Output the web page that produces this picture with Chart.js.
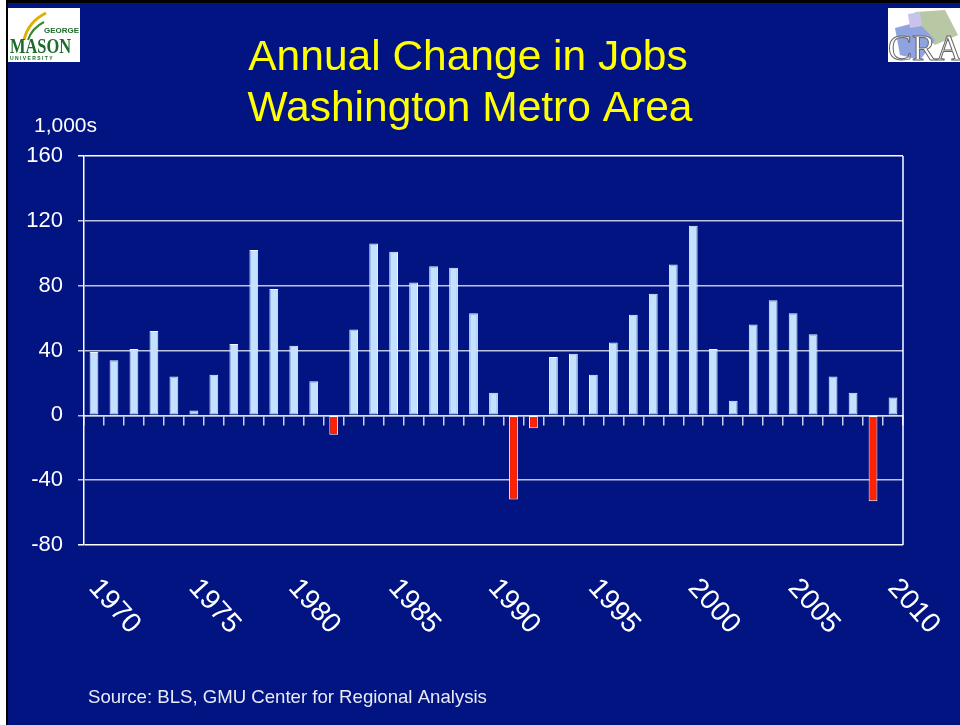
<!DOCTYPE html>
<html>
<head>
<meta charset="utf-8">
<script src="https://cdn.jsdelivr.net/npm/chart.js@4"></script>
<style>
  html, body { margin:0; padding:0; background:#fff; }
  #wrap { position:relative; width:960px; height:725px; overflow:hidden; }
  canvas { display:block; }
</style>
</head>
<body>
<div id="wrap"><canvas id="jobsChart" width="960" height="725"></canvas></div>
<script>
// --- Data ---
const years = ['1970','1971','1972','1973','1974','1975','1976','1977','1978','1979',
  '1980','1981','1982','1983','1984','1985','1986','1987','1988','1989',
  '1990','1991','1992','1993','1994','1995','1996','1997','1998','1999',
  '2000','2001','2002','2003','2004','2005','2006','2007','2008','2009','2010'];
const jobChange = [39, 34, 41, 52, 24, 3, 25, 44, 102, 78,
  43, 21, -12, 53, 106, 101, 82, 92, 91, 63,
  14, -52, -8, 36, 38, 25, 45, 62, 75, 93,
  117, 41, 9, 56, 71, 63, 50, 24, 14, -53, 11];
const yTicks = [160, 120, 80, 40, 0, -40, -80];
const titleLines = ['Annual Change in Jobs', 'Washington Metro Area'];
const unitLabel = '1,000s';
const sourceNote = 'Source: BLS, GMU Center for Regional Analysis';

// --- Style ---
const NAVY = '#011482';
const FONT = '"Liberation Sans", Arial, sans-serif';
const GRID = 'rgba(225,228,240,0.85)';

// background, frame, titles, logos
const slidePlugin = {
  id: 'slide',
  beforeDraw(chart) {
    const c = chart.ctx;
    c.save();
    c.fillStyle = '#fff';
    c.fillRect(0, 0, 960, 725);
    c.fillStyle = NAVY;
    c.fillRect(8, 3, 952, 722);
    c.fillStyle = '#000';
    c.fillRect(6, 0, 2, 725);
    c.fillRect(6, 0, 954, 3);

    // GMU logo
    c.fillStyle = '#fff';
    c.fillRect(8, 8, 72, 54);
    c.strokeStyle = '#e0b000'; c.lineWidth = 3;
    c.beginPath(); c.moveTo(24, 40); c.quadraticCurveTo(28, 22, 46, 13); c.stroke();
    c.strokeStyle = '#2f8a2f'; c.lineWidth = 2;
    c.beginPath(); c.moveTo(28, 40); c.quadraticCurveTo(32, 28, 44, 22); c.stroke();
    c.fillStyle = '#1c6b2a';
    c.font = 'bold 8px ' + FONT;
    c.fillText('GEORGE', 44, 33);
    c.font = 'bold 20px "Liberation Serif", serif';
    c.save();
    c.translate(10, 53);
    c.scale(0.82, 1);
    c.fillText('MASON', 0, 0);
    c.restore();
    c.font = 'bold 5px ' + FONT;
    c.fillText('U N I V E R S I T Y', 10, 60);

    // CRA logo
    c.fillStyle = '#fff';
    c.fillRect(888, 8, 72, 54);
    c.fillStyle = '#b9c8a4';
    c.beginPath(); c.moveTo(915, 12); c.lineTo(945, 10); c.lineTo(958, 35); c.lineTo(935, 45); c.lineTo(918, 30); c.closePath(); c.fill();
    c.fillStyle = '#8fa3e0';
    c.beginPath(); c.moveTo(895, 28); c.lineTo(918, 22); c.lineTo(935, 40); c.lineTo(920, 60); c.lineTo(900, 55); c.closePath(); c.fill();
    c.fillStyle = '#c9c2ea';
    c.beginPath(); c.moveTo(908, 14); c.lineTo(920, 12); c.lineTo(922, 26); c.lineTo(910, 28); c.closePath(); c.fill();
    c.font = '36px "Liberation Serif", serif';
    c.fillStyle = '#fff';
    c.strokeStyle = '#666'; c.lineWidth = 1;
    c.fillText('CRA', 888, 60);
    c.strokeText('CRA', 888, 60);

    // title
    c.fillStyle = '#ffff00';
    c.font = '42.5px ' + FONT;
    c.textAlign = 'center';
    c.textBaseline = 'alphabetic';
    c.fillText(titleLines[0], 468, 70);
    c.fillText(titleLines[1], 470, 121);

    // unit + source
    c.fillStyle = '#fff';
    c.textAlign = 'left';
    c.font = '21px ' + FONT;
    c.fillText(unitLabel, 34, 132);
    c.font = '18.6px ' + FONT;
    c.fillStyle = '#e8eaf6';
    c.fillText(sourceNote, 88, 703);
    c.restore();
  },
  afterDatasetsDraw(chart) {
    const c = chart.ctx, a = chart.chartArea;
    c.save();
    c.strokeStyle = '#fff';
    c.lineWidth = 1.5;
    c.beginPath(); c.moveTo(a.right, a.top); c.lineTo(a.right, a.bottom); c.stroke();
    c.restore();
  },
  afterDraw(chart) {
    // rotated year labels, every 5 years
    const c = chart.ctx, xs = chart.scales.x;
    c.save();
    c.fillStyle = '#fff';
    c.font = '28px ' + FONT;
    c.textAlign = 'left';
    c.textBaseline = 'top';
    years.forEach((y, i) => {
      if (Number(y) % 5 !== 0) return;
      const px = xs.getPixelForValue(i);
      c.save();
      c.translate(px + 10, 574);
      c.rotate(48 * Math.PI / 180);
      c.fillText(y, 0, 0);
      c.restore();
    });
    c.restore();
  }
};

const ctx = document.getElementById('jobsChart').getContext('2d');
new Chart(ctx, {
  type: 'bar',
  data: {
    labels: years,
    datasets: [{
      data: jobChange,
      backgroundColor: jobChange.map(v => v < 0 ? '#ff2200' : '#c4e2ff'),
      borderColor: jobChange.map(v => v < 0 ? '#ffffff' : '#eef7ff'),
      borderWidth: 1,
      borderSkipped: false,
      barPercentage: 0.44,
      categoryPercentage: 1
    }]
  },
  plugins: [slidePlugin],
  options: {
    responsive: false,
    animation: false,
    layout: { padding: { top: 156, right: 57, left: 0, bottom: 0 } },
    plugins: { legend: { display: false }, tooltip: { enabled: false } },
    scales: {
      x: {
        position: { y: 0 },
        offset: true,
        grid: { offset: true, drawOnChartArea: false, drawTicks: true, tickLength: 9, color: 'rgba(235,238,250,0.85)', lineWidth: 1.5 },
        border: { color: GRID, width: 1.5 },
        ticks: { display: false }
      },
      xb: {
        type: 'category',
        position: 'bottom',
        labels: years,
        offset: true,
        grid: { display: false },
        border: { display: false },
        ticks: { display: false },
        afterFit: s => { s.height = 180; }
      },
      y: {
        min: -80, max: 160,
        afterBuildTicks: s => { s.ticks = yTicks.map(v => ({ value: v })); },
        afterFit: s => { s.width = 84; },
        grid: {
          color: ctx => (ctx.tick && (ctx.tick.value === 160 || ctx.tick.value === -80)) ? '#ffffff' : GRID,
          lineWidth: 1.5,
          tickLength: 6
        },
        border: { color: '#ffffff', width: 1.5 },
        ticks: {
          color: '#fff',
          padding: 15,
          font: { family: FONT, size: 22 },
          callback: v => v
        }
      }
    }
  }
});
</script>
</body>
</html>
